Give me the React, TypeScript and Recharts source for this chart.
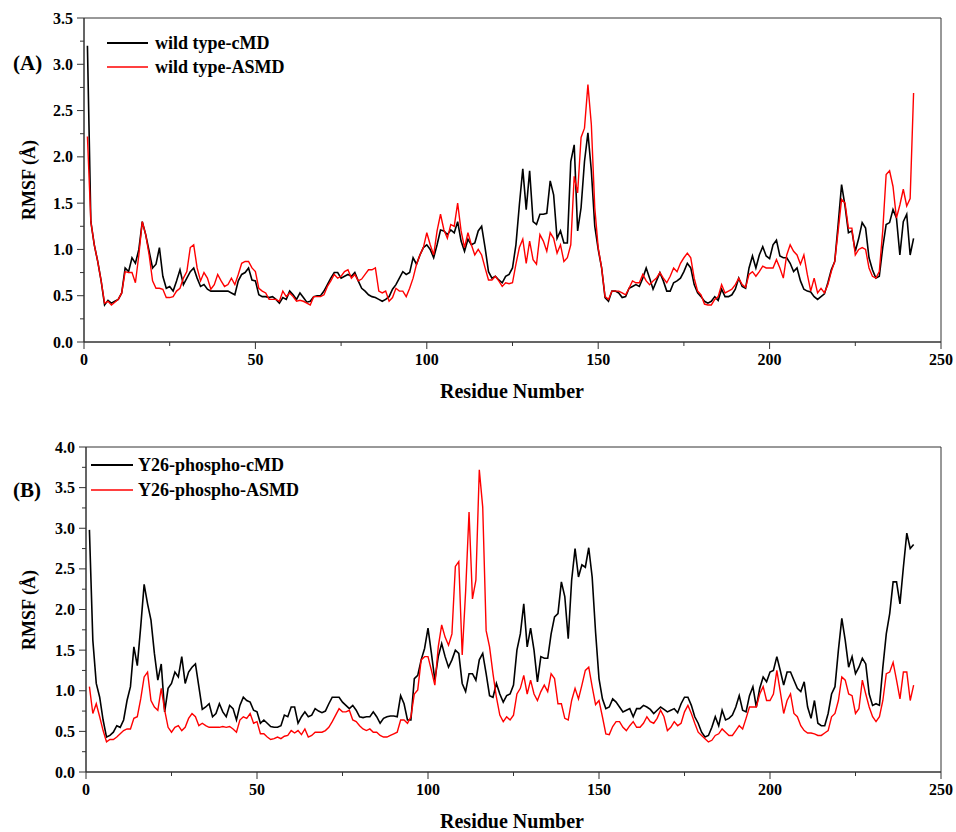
import { LineChart, Line, XAxis, YAxis, ReferenceArea } from 'recharts';

const FONT = '"Liberation Serif", "Times New Roman", serif';
const AXIS = '#333';
const BLACK = '#000000';
const RED = '#ff0000';

// residue index 1..242
const RESIDUES = Array.from({ length: 242 }, (_, i) => i + 1);

const X_TICKS = [0, 25, 50, 75, 100, 125, 150, 175, 200, 225, 250];
const Y_TICKS_A = [0, 0.25, 0.5, 0.75, 1, 1.25, 1.5, 1.75, 2, 2.25, 2.5, 2.75, 3, 3.25, 3.5];
const Y_TICKS_B = [0, 0.25, 0.5, 0.75, 1, 1.25, 1.5, 1.75, 2, 2.25, 2.5, 2.75, 3, 3.25, 3.5, 3.75, 4];

// (A) wild type
const WT_CMD = [
  3.2, 1.3, 1.05, 0.87, 0.66, 0.40, 0.45, 0.42, 0.44, 0.46,
  0.53, 0.80, 0.76, 0.91, 0.85, 1.0, 1.30, 1.16, 0.98, 0.80,
  0.84, 1.02, 0.71, 0.58, 0.60, 0.55, 0.66, 0.78, 0.62, 0.69,
  0.76, 0.80, 0.69, 0.60, 0.62, 0.57, 0.55, 0.55, 0.55, 0.55,
  0.55, 0.55, 0.53, 0.51, 0.66, 0.73, 0.75, 0.80, 0.67, 0.66,
  0.51, 0.49, 0.49, 0.48, 0.49, 0.46, 0.42, 0.48, 0.46, 0.55,
  0.51, 0.46, 0.53, 0.48, 0.43, 0.44, 0.49, 0.50, 0.50, 0.55,
  0.62, 0.69, 0.75, 0.75, 0.69, 0.71, 0.73, 0.71, 0.75, 0.66,
  0.58, 0.55, 0.51, 0.49, 0.48, 0.46, 0.44, 0.46, 0.49, 0.57,
  0.62, 0.69, 0.76, 0.73, 0.75, 0.91, 0.84, 0.94, 1.02, 1.05,
  1.0, 0.91, 1.05, 1.21, 1.20, 1.16, 1.21, 1.18, 1.30, 1.09,
  0.98, 1.11, 1.05, 1.07, 1.20, 1.25, 1.02, 0.76, 0.69, 0.71,
  0.67, 0.64, 0.71, 0.73, 0.80, 1.05, 1.48, 1.87, 1.43, 1.85,
  1.30, 1.27, 1.38, 1.38, 1.39, 1.74, 1.59, 1.12, 1.20, 1.07,
  1.07, 1.95, 2.13, 1.20, 1.45, 1.95, 2.26, 1.85, 1.25, 1.0,
  0.80, 0.48, 0.44, 0.55, 0.55, 0.53, 0.48, 0.49, 0.58, 0.60,
  0.62, 0.60, 0.69, 0.80, 0.69, 0.57, 0.66, 0.75, 0.66, 0.55,
  0.55, 0.64, 0.66, 0.69, 0.76, 0.85, 0.80, 0.62, 0.53, 0.49,
  0.44, 0.42, 0.44, 0.49, 0.45, 0.57, 0.49, 0.49, 0.51, 0.57,
  0.69, 0.60, 0.58, 0.80, 0.93, 0.80, 0.94, 1.03, 0.93, 0.90,
  1.05, 1.10, 0.93, 0.91, 0.91, 0.85, 0.76, 0.80, 0.66, 0.57,
  0.55, 0.54, 0.49, 0.46, 0.49, 0.52, 0.64, 0.78, 0.87, 1.27,
  1.70, 1.47, 1.18, 1.20, 0.98, 1.12, 1.29, 1.23, 0.91, 0.78,
  0.69, 0.71, 1.02, 1.27, 1.29, 1.43, 1.34, 0.94, 1.30, 1.38,
  0.94, 1.12,
];

const WT_ASMD = [
  2.22, 1.3, 1.05, 0.87, 0.66, 0.42, 0.44, 0.40, 0.43, 0.46,
  0.53, 0.76, 0.75, 0.75, 0.64, 0.94, 1.30, 1.16, 0.94, 0.66,
  0.58, 0.58, 0.57, 0.48, 0.48, 0.49, 0.55, 0.58, 0.69, 0.76,
  1.02, 1.05, 0.80, 0.66, 0.75, 0.69, 0.57, 0.62, 0.73, 0.66,
  0.60, 0.62, 0.69, 0.62, 0.73, 0.85, 0.87, 0.87, 0.80, 0.76,
  0.58, 0.55, 0.53, 0.46, 0.46, 0.46, 0.44, 0.55, 0.49, 0.53,
  0.49, 0.44, 0.45, 0.44, 0.42, 0.40, 0.49, 0.49, 0.49, 0.51,
  0.60, 0.66, 0.73, 0.69, 0.71, 0.76, 0.78, 0.69, 0.73, 0.66,
  0.68, 0.73, 0.78, 0.78, 0.80, 0.55, 0.53, 0.55, 0.44, 0.48,
  0.58, 0.55, 0.55, 0.49, 0.58, 0.69, 0.84, 0.94, 1.02, 1.18,
  1.05, 0.94, 1.20, 1.38, 1.21, 1.12, 1.27, 1.25, 1.50, 1.20,
  1.02, 1.18, 1.05, 0.94, 1.0, 0.94, 0.80, 0.67, 0.67, 0.71,
  0.66, 0.60, 0.64, 0.63, 0.64, 0.84, 1.02, 1.11, 0.85, 1.09,
  0.89, 0.84, 1.16, 1.09, 0.98, 1.18, 1.12, 0.96, 1.05, 0.87,
  0.91, 1.05, 1.79, 1.61, 2.21, 2.31, 2.78, 2.35, 1.45, 1.02,
  0.80, 0.49, 0.46, 0.55, 0.55, 0.55, 0.53, 0.51, 0.58, 0.66,
  0.64, 0.64, 0.73, 0.66, 0.62, 0.66, 0.69, 0.75, 0.69, 0.64,
  0.71, 0.80, 0.76, 0.85, 0.91, 0.96, 0.91, 0.69, 0.55, 0.51,
  0.41, 0.40, 0.40, 0.46, 0.49, 0.62, 0.53, 0.55, 0.57, 0.62,
  0.69, 0.62, 0.59, 0.73, 0.76, 0.71, 0.76, 0.82, 0.80, 0.80,
  0.80, 0.89, 0.80, 0.69, 0.94, 1.05, 0.98, 0.94, 0.84, 0.94,
  0.73, 0.55, 0.69, 0.53, 0.58, 0.53, 0.62, 0.76, 0.87, 1.20,
  1.54, 1.50, 1.23, 1.23, 0.94, 1.0, 1.02, 1.0, 0.80, 0.71,
  0.69, 0.76, 1.20, 1.81, 1.85, 1.68, 1.34, 1.48, 1.65, 1.47,
  1.55, 2.69,
];

// (B) Y26-phospho
const P_CMD = [
  2.98, 1.62, 1.09, 0.92, 0.64, 0.43, 0.45, 0.49, 0.57, 0.55,
  0.64, 0.88, 1.05, 1.54, 1.31, 1.79, 2.31, 2.07, 1.87, 1.46,
  1.13, 1.33, 0.74, 1.03, 1.09, 1.23, 1.17, 1.42, 1.09, 1.23,
  1.29, 1.33, 1.05, 0.77, 0.80, 0.84, 0.68, 0.72, 0.84, 0.74,
  0.68, 0.82, 0.78, 0.64, 0.82, 0.92, 0.88, 0.86, 0.76, 0.74,
  0.60, 0.64, 0.60, 0.56, 0.55, 0.55, 0.57, 0.70, 0.68, 0.80,
  0.80, 0.60, 0.68, 0.74, 0.68, 0.70, 0.78, 0.75, 0.73, 0.75,
  0.84, 0.92, 0.92, 0.92, 0.86, 0.82, 0.78, 0.82, 0.76, 0.68,
  0.67, 0.68, 0.68, 0.74, 0.68, 0.60, 0.66, 0.68, 0.69, 0.69,
  0.68, 0.94, 0.84, 0.64, 0.64, 1.15, 1.19, 1.38, 1.52, 1.77,
  1.46, 1.13, 1.42, 1.58, 1.42, 1.29, 1.38, 1.50, 1.46, 1.09,
  0.99, 1.21, 1.21, 1.13, 1.38, 1.46, 1.21, 0.94, 0.92, 1.09,
  0.96, 0.86, 0.94, 0.96, 1.07, 1.50, 1.70, 2.07, 1.54, 1.77,
  1.50, 1.11, 1.42, 1.40, 1.40, 1.70, 1.91, 1.95, 2.34, 2.16,
  1.64, 2.36, 2.75, 2.40, 2.55, 2.52, 2.76, 2.40, 1.72, 1.15,
  0.90, 0.78, 0.80, 0.90, 0.86, 0.80, 0.74, 0.76, 0.78, 0.68,
  0.78, 0.78, 0.82, 0.80, 0.77, 0.72, 0.76, 0.80, 0.77, 0.74,
  0.76, 0.78, 0.73, 0.84, 0.92, 0.92, 0.82, 0.68, 0.60, 0.49,
  0.43, 0.45, 0.55, 0.68, 0.57, 0.76, 0.64, 0.66, 0.70, 0.80,
  0.94, 0.76, 0.74, 0.94, 1.05, 0.80, 1.03, 1.17, 1.11, 1.23,
  1.25, 1.42, 1.25, 1.07, 1.23, 1.23, 1.13, 1.03, 0.99, 1.11,
  0.80, 0.66, 0.88, 0.60, 0.57, 0.57, 0.72, 0.96, 1.05, 1.50,
  1.89, 1.62, 1.29, 1.42, 1.21, 1.29, 1.40, 1.33, 0.96, 0.82,
  0.84, 0.82, 1.29, 1.70, 1.95, 2.34, 2.34, 2.07, 2.52, 2.94,
  2.75, 2.80,
];

const P_ASMD = [
  1.05, 0.72, 0.84, 0.68, 0.51, 0.37, 0.40, 0.40, 0.43, 0.47,
  0.51, 0.53, 0.53, 0.66, 0.68, 0.90, 1.17, 1.23, 0.88, 0.80,
  0.76, 1.03, 0.76, 0.55, 0.49, 0.55, 0.57, 0.51, 0.55, 0.66,
  0.72, 0.68, 0.57, 0.60, 0.57, 0.55, 0.55, 0.55, 0.55, 0.56,
  0.55, 0.56, 0.53, 0.49, 0.64, 0.68, 0.66, 0.72, 0.60, 0.62,
  0.47, 0.47, 0.43, 0.40, 0.41, 0.43, 0.41, 0.44, 0.45, 0.51,
  0.48, 0.51, 0.46, 0.53, 0.43, 0.45, 0.49, 0.49, 0.49, 0.51,
  0.55, 0.62, 0.70, 0.78, 0.74, 0.74, 0.76, 0.64, 0.62, 0.57,
  0.53, 0.51, 0.53, 0.49, 0.49, 0.45, 0.43, 0.43, 0.45, 0.47,
  0.49, 0.64, 0.64, 0.60, 0.68, 0.96, 1.01, 1.38, 1.42, 1.42,
  1.25, 1.07, 1.54, 1.81, 1.66, 1.56, 1.70, 2.53, 2.59, 1.44,
  2.22, 3.20, 2.13, 2.36, 3.72, 3.26, 1.74, 1.54, 1.21, 0.92,
  0.70, 0.62, 0.68, 0.64, 0.70, 0.96, 1.03, 1.19, 0.96, 1.13,
  0.96, 0.88, 0.99, 1.07, 0.99, 1.21, 1.15, 0.84, 0.84, 0.66,
  0.64, 0.88, 1.03, 0.90, 1.07, 1.25, 1.29, 1.05, 0.83, 0.88,
  0.68, 0.47, 0.46, 0.56, 0.62, 0.62, 0.55, 0.51, 0.57, 0.62,
  0.55, 0.55, 0.60, 0.68, 0.62, 0.60, 0.66, 0.76, 0.68, 0.51,
  0.55, 0.62, 0.57, 0.60, 0.74, 0.82, 0.72, 0.60, 0.49, 0.45,
  0.41, 0.37, 0.39, 0.45, 0.47, 0.53, 0.49, 0.45, 0.45, 0.51,
  0.57, 0.53, 0.66, 0.80, 0.80, 0.80, 0.96, 1.05, 0.88, 0.88,
  0.96, 1.25, 0.99, 0.72, 0.88, 0.96, 0.72, 0.68, 0.57, 0.51,
  0.48, 0.48, 0.47, 0.45, 0.45, 0.48, 0.51, 0.68, 0.72, 0.88,
  1.17, 1.13, 0.96, 0.94, 0.72, 0.78, 1.13, 0.96, 0.80, 0.68,
  0.62, 0.68, 0.88, 1.21, 1.23, 1.35, 1.13, 0.90, 1.23, 1.23,
  0.88, 1.07,
];

const dataA = RESIDUES.map((r, i) => ({ r, cmd: WT_CMD[i], asmd: WT_ASMD[i] }));
const dataB = RESIDUES.map((r, i) => ({ r, cmd: P_CMD[i], asmd: P_ASMD[i] }));

function XTick(props: any) {
  const { x, y, payload } = props;
  const major = payload.value % 50 === 0;
  return (
    <g>
      <line x1={x} y1={y} x2={x} y2={y + (major ? 7 : 4)} stroke={AXIS} />
      {major && (
        <text x={x} y={y + 23} textAnchor="middle" fontFamily={FONT} fontWeight="bold" fontSize={16} fill="#000">
          {payload.value}
        </text>
      )}
    </g>
  );
}

function YTick(props: any) {
  const { x, y, payload } = props;
  const v = payload.value;
  const major = Math.abs(v * 2 - Math.round(v * 2)) < 1e-6;
  return (
    <g>
      <line x1={x - (major ? 7 : 4)} y1={y} x2={x} y2={y} stroke={AXIS} />
      {major && (
        <text x={x - 11} y={y} dy="0.35em" textAnchor="end" fontFamily={FONT} fontWeight="bold" fontSize={16} fill="#000">
          {v.toFixed(1)}
        </text>
      )}
    </g>
  );
}

function Panel({ data, yMax, yTicks, top, yWidth, xHeight }: any) {
  return (
    <LineChart width={956} height={380} data={data} margin={{ top, right: 15, bottom: 0, left: 0 }}>
      <XAxis
        dataKey="r"
        type="number"
        domain={[0, 250]}
        ticks={X_TICKS}
        interval={0}
        height={xHeight}
        tickSize={0}
        tickMargin={0}
        tick={(p: any) => <XTick {...p} />}
        axisLine={{ stroke: AXIS }}
      />
      <YAxis
        type="number"
        domain={[0, yMax]}
        ticks={yTicks}
        interval={0}
        width={yWidth}
        tickSize={0}
        tickMargin={0}
        tick={(p: any) => <YTick {...p} />}
        axisLine={{ stroke: AXIS }}
      />
      <ReferenceArea x1={0} x2={250} y1={0} y2={yMax} fill="none" stroke={AXIS} strokeWidth={1} />
      <Line type="linear" dataKey="cmd" stroke={BLACK} strokeWidth={1.6} dot={false} isAnimationActive={false} />
      <Line type="linear" dataKey="asmd" stroke={RED} strokeWidth={1.4} dot={false} isAnimationActive={false} />
    </LineChart>
  );
}

const textStyle = { fontFamily: FONT, fontWeight: 'bold' as const, fill: '#000' };

export default function App() {
  return (
    <div style={{ position: 'absolute', left: 0, top: 0, width: 956, height: 832, background: '#fff' }}>
      <div style={{ position: 'absolute', left: 0, top: 0 }}>
        <Panel data={dataA} yMax={3.5} yTicks={Y_TICKS_A} top={18} yWidth={84} xHeight={38} />
      </div>
      <div style={{ position: 'absolute', left: 0, top: 420 }}>
        <Panel data={dataB} yMax={4} yTicks={Y_TICKS_B} top={27} yWidth={86} xHeight={28} />
      </div>
      <svg width={956} height={832} style={{ position: 'absolute', left: 0, top: 0, pointerEvents: 'none' }}>
        <text x={13} y={70} fontSize={21} {...textStyle}>(A)</text>
        <text x={13} y={497} fontSize={21} {...textStyle}>(B)</text>

        <text transform="translate(35,180) rotate(-90)" textAnchor="middle" fontSize={18} {...textStyle}>RMSF (Å)</text>
        <text transform="translate(35,610) rotate(-90)" textAnchor="middle" fontSize={18} {...textStyle}>RMSF (Å)</text>

        <text x={512} y={398} textAnchor="middle" fontSize={20} {...textStyle}>Residue Number</text>
        <text x={512} y={828} textAnchor="middle" fontSize={20} {...textStyle}>Residue Number</text>

        <line x1={107} y1={43} x2={148} y2={43} stroke={BLACK} strokeWidth={2} />
        <text x={155} y={49} fontSize={18} {...textStyle}>wild type-cMD</text>
        <line x1={107} y1={67} x2={148} y2={67} stroke={RED} strokeWidth={1.6} />
        <text x={155} y={73} fontSize={18} {...textStyle}>wild type-ASMD</text>

        <line x1={91} y1={465} x2={133} y2={465} stroke={BLACK} strokeWidth={2} />
        <text x={138} y={471} fontSize={18} {...textStyle}>Y26-phospho-cMD</text>
        <line x1={91} y1={490} x2={133} y2={490} stroke={RED} strokeWidth={1.6} />
        <text x={138} y={496} fontSize={18} {...textStyle}>Y26-phospho-ASMD</text>
      </svg>
    </div>
  );
}
